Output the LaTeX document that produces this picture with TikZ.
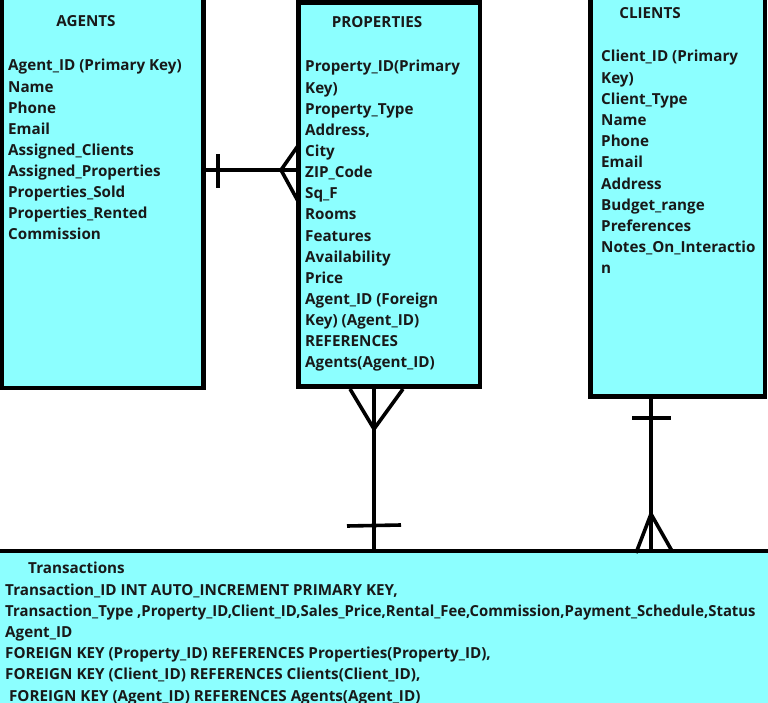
\documentclass[tikz,border=0pt]{standalone}
\usepackage{fontspec}
\setmainfont{Open Sans}
\usetikzlibrary{calc}
\definecolor{entfill}{HTML}{8CFFFF}
\newcommand{\entfont}{\bfseries\fontsize{15.2}{18}\selectfont}

\begin{document}
\begin{tikzpicture}[
  x=1pt,
  y=-1pt,
  entity/.style={draw=black, line width=4.5pt, fill=entfill, anchor=north west,
                 inner sep=0pt, outer sep=0pt},
  title/.style={font=\entfont, text=black!90, anchor=base, inner sep=0pt},
  attr/.style={font=\entfont, text=black!90, anchor=base west, inner sep=0pt},
  rel/.style={line width=3.6pt, color=black},
]

\useasboundingbox (0,0) rectangle (768,703);
\clip (0,0) rectangle (768,703);
\fill[white] (0,0) rectangle (768,703);

% tables
\node[entity, minimum width=202pt, minimum height=398pt] (agents) at (1.5,-10) {};
\node[entity, minimum width=181.5pt, minimum height=384pt] (properties) at (298.5,2.5) {};
\node[entity, minimum width=174.5pt, minimum height=406.5pt] (clients) at (590.5,-10) {};
\node[entity, minimum width=790pt, minimum height=180pt] (transactions) at (-10,551) {};

% AGENTS
\node[title] (agtitle) at (86,27) {AGENTS};
\foreach \t [count=\i] in {Agent\_ID (Primary Key), Name, Phone, Email,
  Assigned\_Clients, Assigned\_Properties, Properties\_Sold,
  Properties\_Rented, Commission}
  \node[attr] (ag\i) at (8,{71+21.1*(\i-1)}) {\t};

% PROPERTIES
\node[title] (prtitle) at (377,28) {PROPERTIES};
\foreach \t [count=\i] in {Property\_ID(Primary, Key), Property\_Type, {Address,},
  City, ZIP\_Code, Sq\_F, Rooms, Features, Availability, Price,
  Agent\_ID (Foreign, Key) (Agent\_ID), REFERENCES, Agents(Agent\_ID)}
  \node[attr] (pr\i) at (305,{72+21.14*(\i-1)}) {\t};

% CLIENTS
\node[title] (cltitle) at (650,19) {CLIENTS};
\foreach \t [count=\i] in {Client\_ID (Primary, Key), Client\_Type, Name, Phone,
  Email, Address, Budget\_range, Preferences, Notes\_On\_Interactio, n}
  \node[attr] (cl\i) at (601,{62+21.2*(\i-1)}) {\t};

% Transactions
\node[attr] (trtitle) at (28,573) {Transactions};
\foreach \t [count=\i] in {{Transaction\_ID INT AUTO\_INCREMENT PRIMARY KEY,},
  {\scalebox{0.978}[1]{Transaction\_Type ,Property\_ID,Client\_ID,Sales\_Price,Rental\_Fee,Commission,Payment\_Schedule,Status}},
  Agent\_ID,
  {FOREIGN KEY (Property\_ID) REFERENCES Properties(Property\_ID),},
  {FOREIGN KEY (Client\_ID) REFERENCES Clients(Client\_ID),},
  {\ FOREIGN KEY (Agent\_ID) REFERENCES Agents(Agent\_ID)}}
  \node[attr] (tr\i) at (5,{595+21.2*(\i-1)}) {\t};

% relationships
\coordinate (apy) at (0,170);
\coordinate (ptx) at (374,0);
\coordinate (ctx) at (651,0);

% agents one -- many properties
\draw[rel] (agents.east |- apy) -- (properties.west |- apy);
\draw[rel] (218,154) -- (218,188);
\draw[rel] (properties.west |- 0,145) -- (281,170) -- (properties.west |- 0,202);

% properties many -- one transactions
\draw[rel] (properties.south -| ptx) -- (transactions.north -| ptx);
\draw[rel] (350,389) -- (374,429) -- (403,389);
\draw[rel] (347,526) -- (401,525);

% clients one -- many transactions
\draw[rel] (clients.south -| ctx) -- (transactions.north -| ctx);
\draw[rel] (632,418) -- (671,418);
\draw[rel] (636,553) -- (651,514) -- (672,551);

\end{tikzpicture}
\end{document}
